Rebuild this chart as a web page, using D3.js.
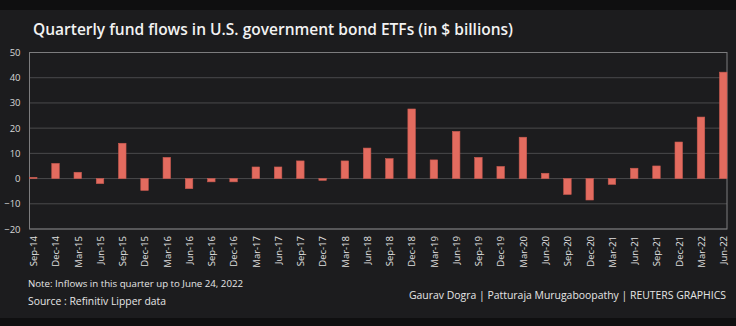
<!DOCTYPE html>
<html>
<head>
  <meta charset="utf-8" />
  <title>Quarterly fund flows in U.S. government bond ETFs</title>
  <script src="https://cdn.jsdelivr.net/npm/d3@7"></script>
  <style>
    body { margin: 0; background: #1c1c1e; }
    text { font-family: "Open Sans", "Noto Sans", sans-serif; }
  </style>
</head>
<body>
  <div id="chart"></div>
  <script>
    // quarterly flows, $ billions
    const quarters = ["Sep-14","Dec-14","Mar-15","Jun-15","Sep-15","Dec-15","Mar-16","Jun-16",
      "Sep-16","Dec-16","Mar-17","Jun-17","Sep-17","Dec-17","Mar-18","Jun-18",
      "Sep-18","Dec-18","Mar-19","Jun-19","Sep-19","Dec-19","Mar-20","Jun-20",
      "Sep-20","Dec-20","Mar-21","Jun-21","Sep-21","Dec-21","Mar-22","Jun-22"];
    const flows = [0.5, 6.0, 2.5, -2.0, 14.0, -4.7, 8.4, -4.0,
      -1.3, -1.3, 4.6, 4.6, 7.0, -0.7, 7.0, 12.1,
      7.9, 27.6, 7.4, 18.7, 8.4, 4.8, 16.4, 2.1,
      -6.3, -8.5, -2.3, 4.1, 5.0, 14.5, 24.4, 42.2];
    const yTicks = [-20, -10, 0, 10, 20, 30, 40, 50];

    const width = 736;
    const height = 326;
    const plot = { left: 29.5, right: 727, top: 52.5, bottom: 229 };
    const barWidth = 7.5;

    const svg = d3.select("#chart").append("svg")
      .attr("width", width)
      .attr("height", height);

    svg.append("rect").attr("width", width).attr("height", height).attr("fill", "#1c1c1e");
    svg.append("rect").attr("width", width).attr("height", 10).attr("fill", "#0f0f10");
    svg.append("rect").attr("y", 318).attr("width", width).attr("height", 8).attr("fill", "#0f0f10");

    const x = d3.scalePoint()
      .domain(quarters)
      .range([plot.left + barWidth / 2, plot.right - barWidth / 2]);

    const y = d3.scaleLinear()
      .domain([-20, 50])
      .range([plot.bottom, plot.top]);

    // horizontal grid
    svg.append("g")
      .selectAll("line")
      .data(yTicks)
      .join("line")
      .attr("x1", plot.left).attr("x2", plot.right)
      .attr("y1", d => y(d)).attr("y2", d => y(d))
      .attr("stroke", "#4a4a4c")
      .attr("stroke-width", 1);

    // frame round the plot
    svg.append("rect")
      .attr("x", plot.left).attr("y", plot.top)
      .attr("width", plot.right - plot.left)
      .attr("height", plot.bottom - plot.top)
      .attr("fill", "none")
      .attr("stroke", "#7c7c7e")
      .attr("stroke-width", 1);

    // y axis labels
    const yAxis = d3.axisLeft(y).tickValues(yTicks).tickSize(0).tickPadding(9);
    const gy = svg.append("g")
      .attr("transform", `translate(${plot.left},0)`)
      .call(yAxis);
    gy.select(".domain").remove();
    gy.selectAll("text")
      .attr("fill", "#d6d6d6")
      .style("font-size", "9.5px");

    // bars
    svg.append("g")
      .selectAll("rect")
      .data(flows)
      .join("rect")
      .attr("x", (d, i) => x(quarters[i]) - barWidth / 2)
      .attr("y", d => y(Math.max(0, d)))
      .attr("width", barWidth)
      .attr("height", d => Math.abs(y(d) - y(0)))
      .attr("fill", "#e36b5f")
      .attr("stroke", "#c95a50")
      .attr("stroke-width", 0.6);

    // x axis labels, rotated
    const xAxis = d3.axisBottom(x).tickSize(0).tickPadding(0);
    const gx = svg.append("g")
      .attr("transform", `translate(0,${plot.bottom})`)
      .call(xAxis);
    gx.select(".domain").remove();
    gx.selectAll("text")
      .attr("fill", "#e0e0e0")
      .style("font-size", "9.5px")
      .attr("text-anchor", "end")
      .attr("dy", "0.35em")
      .attr("transform", "translate(0,7) rotate(-90)")
      .attr("x", 0).attr("y", 0);

    // title
    svg.append("text")
      .attr("x", 33).attr("y", 35)
      .attr("fill", "#f2f2f2")
      .style("font-size", "16px")
      .style("font-weight", 600)
      .attr("textLength", 480)
      .attr("lengthAdjust", "spacingAndGlyphs")
      .text("Quarterly fund flows in U.S. government bond ETFs (in $ billions)");

    // notes and credits
    svg.append("text")
      .attr("x", 28).attr("y", 287)
      .attr("fill", "#e6e6e6")
      .style("font-size", "9px")
      .attr("textLength", 215)
      .attr("lengthAdjust", "spacingAndGlyphs")
      .text("Note: Inflows in this quarter up to June 24, 2022");

    svg.append("text")
      .attr("x", 28).attr("y", 305)
      .attr("fill", "#e6e6e6")
      .style("font-size", "10px")
      .attr("textLength", 138)
      .attr("lengthAdjust", "spacingAndGlyphs")
      .text("Source : Refinitiv Lipper data");

    svg.append("text")
      .attr("x", 409).attr("y", 299)
      .attr("fill", "#e6e6e6")
      .style("font-size", "10px")
      .attr("textLength", 317)
      .attr("lengthAdjust", "spacingAndGlyphs")
      .text("Gaurav Dogra | Patturaja Murugaboopathy | REUTERS GRAPHICS");
  </script>
</body>
</html>
